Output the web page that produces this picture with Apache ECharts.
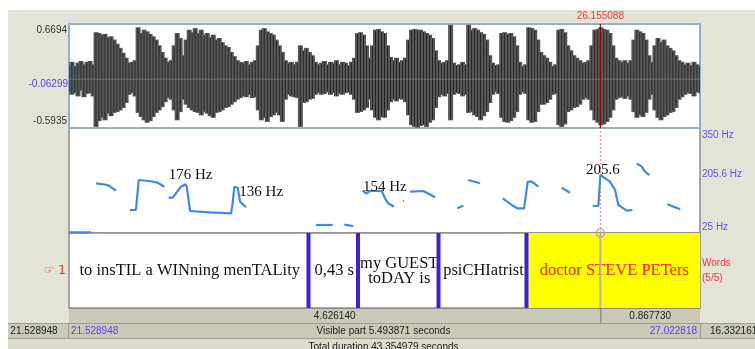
<!DOCTYPE html>
<html><head><meta charset="utf-8">
<script src="https://cdn.jsdelivr.net/npm/echarts@6/dist/echarts.min.js"></script>
<style>html,body{margin:0;padding:0;background:#fff}#c{width:755px;height:349px}</style>
</head><body><div id="c"></div>
<script>
// ---------- data ----------
const T_START = 21.528948, T_END = 27.022818, T_CURSOR = 26.155088;
const VISIBLE_PART = '5.493871', TOTAL_DURATION = '43.354979', RIGHT_REST = '16.332161';
const WAVE_MAX = 0.6694, WAVE_MIN = -0.5935, WAVE_CURSOR_VALUE = -0.06299;
const waveLabels = ['0.6694', '-0.06299', '-0.5935'];
// envelope of the waveform (max / min amplitude per display column)
const waveUpper = [0.17,0.21,0.16,0.20,0.22,0.18,0.21,0.22,0.18,0.57,0.56,0.54,0.55,0.51,0.52,0.48,0.43,0.38,0.32,0.26,
0.20,0.21,0.23,0.63,0.56,0.60,0.58,0.55,0.52,0.48,0.41,0.33,0.26,0.21,0.23,0.41,0.56,0.50,0.29,0.48,
0.60,0.57,0.62,0.56,0.60,0.54,0.56,0.51,0.54,0.48,0.50,0.45,0.41,0.39,0.33,0.28,0.23,0.21,0.20,0.22,
0.18,0.21,0.23,0.41,0.60,0.62,0.58,0.56,0.54,0.48,0.41,0.33,0.23,0.20,0.21,0.18,0.21,0.41,0.35,0.38,
0.33,0.29,0.21,0.18,0.20,0.22,0.18,0.21,0.20,0.23,0.18,0.21,0.20,0.17,0.21,0.26,0.56,0.57,0.54,0.41,
0.26,0.41,0.60,0.61,0.58,0.56,0.41,0.27,0.23,0.26,0.21,0.23,0.26,0.48,0.60,0.61,0.60,0.60,0.58,0.56,
0.54,0.50,0.35,0.23,0.20,0.21,0.23,0.66,0.20,0.17,0.18,0.21,0.18,0.66,0.60,0.62,0.60,0.57,0.55,0.48,
0.29,0.20,0.17,0.18,0.56,0.57,0.55,0.56,0.52,0.41,0.21,0.16,0.18,0.63,0.62,0.60,0.48,0.33,0.29,0.26,
0.21,0.16,0.18,0.60,0.61,0.57,0.41,0.35,0.29,0.26,0.23,0.20,0.21,0.23,0.41,0.60,0.61,0.63,0.61,0.60,
0.56,0.41,0.26,0.23,0.21,0.23,0.20,0.23,0.48,0.60,0.58,0.56,0.48,0.29,0.21,0.41,0.50,0.45,0.48,0.41,
0.38,0.35,0.29,0.23,0.21,0.18,0.20,0.17,0.21,0.18,0.16];
const waveLower = [-0.16,-0.19,-0.17,-0.21,-0.14,-0.22,-0.18,-0.17,-0.21,-0.58,-0.51,-0.47,-0.50,-0.42,-0.45,-0.41,-0.40,-0.38,-0.35,-0.29,
-0.19,-0.17,-0.21,-0.41,-0.46,-0.50,-0.53,-0.51,-0.46,-0.41,-0.38,-0.34,-0.28,-0.23,-0.25,-0.38,-0.50,-0.40,-0.25,-0.31,
-0.35,-0.38,-0.40,-0.41,-0.44,-0.40,-0.42,-0.45,-0.47,-0.41,-0.40,-0.38,-0.35,-0.34,-0.31,-0.28,-0.25,-0.23,-0.21,-0.22,
-0.19,-0.23,-0.22,-0.38,-0.50,-0.47,-0.52,-0.46,-0.44,-0.41,-0.44,-0.52,-0.25,-0.19,-0.21,-0.22,-0.23,-0.58,-0.29,-0.28,
-0.25,-0.24,-0.19,-0.17,-0.19,-0.18,-0.16,-0.19,-0.17,-0.21,-0.18,-0.19,-0.17,-0.16,-0.19,-0.25,-0.41,-0.40,-0.38,-0.35,
-0.25,-0.38,-0.47,-0.50,-0.46,-0.47,-0.38,-0.28,-0.25,-0.27,-0.24,-0.25,-0.28,-0.44,-0.56,-0.58,-0.59,-0.57,-0.56,-0.58,
-0.53,-0.50,-0.35,-0.22,-0.19,-0.21,-0.18,-0.50,-0.19,-0.17,-0.18,-0.21,-0.19,-0.41,-0.40,-0.44,-0.46,-0.50,-0.45,-0.40,
-0.29,-0.19,-0.16,-0.18,-0.47,-0.52,-0.53,-0.51,-0.47,-0.40,-0.19,-0.16,-0.18,-0.50,-0.53,-0.52,-0.40,-0.31,-0.31,-0.29,
-0.25,-0.19,-0.18,-0.56,-0.58,-0.55,-0.40,-0.38,-0.35,-0.34,-0.31,-0.25,-0.23,-0.25,-0.38,-0.50,-0.53,-0.56,-0.55,-0.52,
-0.47,-0.38,-0.25,-0.23,-0.22,-0.24,-0.21,-0.25,-0.40,-0.47,-0.44,-0.46,-0.41,-0.25,-0.19,-0.38,-0.47,-0.50,-0.46,-0.44,
-0.41,-0.40,-0.35,-0.25,-0.22,-0.19,-0.17,-0.18,-0.21,-0.16,-0.17];
const WAVE_DT = (T_END - T_START) / (waveUpper.length - 1); // column period (s)

// pitch contour pieces [time s, Hz]
const pitchSegments = [
  [[21.531,27],[21.720,27]],
  [[21.764,178.8],[21.866,173.6],[21.938,155.9]],
  [[22.060,96.2],[22.112,96.2],[22.136,189.1],[22.228,186.0],[22.301,180.7],[22.359,168.3]],
  [[22.397,134.3],[22.432,134.3],[22.504,168.3],[22.542,175.7],[22.554,168.3],[22.583,93.1],[22.751,89.1],[22.940,86.0],[22.954,116.9],[22.968,168.3],[22.998,165.2],[23.018,121.9],[23.070,104.5]],
  [[23.680,49.8],[23.825,49.8]],
  [[23.926,51],[24.004,46.7]],
  [[24.086,156.5],[24.115,147.3],[24.150,155],[24.252,155],[24.280,132.4],[24.309,116.9],[24.359,106.4]],
  [[24.436,124],[24.444,124]],
  [[24.498,152.8],[24.614,155],[24.716,135.5]],
  [[24.910,101.5],[24.962,109.5]],
  [[25.006,189.1],[25.108,178.8]],
  [[25.305,132.4],[25.384,111.7],[25.432,101.5],[25.491,101.5],[25.523,183.8],[25.558,183.8],[25.615,168.3]],
  [[25.819,165.2],[25.891,149.7]],
  [[26.089,108.6],[26.138,108.6],[26.155,205.6],[26.176,199.3],[26.239,183.8],[26.283,158.1],[26.312,111.7],[26.385,94],[26.434,96.2]],
  [[26.472,240.7],[26.515,230.2],[26.544,214.7],[26.582,204.5]],
  [[26.738,113.8],[26.849,98.4]]
];
const PITCH_MIN = 25, PITCH_MAX = 350;
const pitchTickValues = [350, 205.6, 25];
const pitchTickLabels = ['350 Hz', '205.6 Hz', '25 Hz'];
const pitchAnnotations = [[22.397, 204.5, '176 Hz'], [23.012, 151.9, '136 Hz'], [24.089, 168.3, '154 Hz'], [26.030, 220.9, '205.6']];

// text tier
const intervalBounds = [T_START, 23.614, 24.045, 24.746, 25.512, T_END];
const intervalLabels = ['to insTIL a WINning menTALity', '0,43 s', 'my GUEST\ntoDAY is', 'psiCHIatrist', 'doctor STEVE PETers'];
const SELECTED = 4;
const tierName = 'Words', tierCount = '(5/5)', tierNumber = '\u261E 1';
const cursorPartLabels = ['4.626140', '0.867730'];
const cursorTopLabel = '26.155088';

// ---------- chart ----------
const SANS = '"Liberation Sans", Arial, sans-serif';
const SERIF = '"Liberation Serif", "Times New Roman", serif';
const chart = echarts.init(document.getElementById('c'), null, {renderer: 'canvas'});

const waveData = waveUpper.map((u, i) => [T_START + i * WAVE_DT, u, waveLower[i]]);
const intervalData = intervalLabels.map((l, i) => [intervalBounds[i], intervalBounds[i + 1], i]);
const boundaryData = intervalBounds.slice(1, -1).map(b => [b]);

const timeAxis = (gi) => ({type: 'value', gridIndex: gi, min: T_START, max: T_END, show: false});
const series = [];
series.push({
  type: 'custom', xAxisIndex: 0, yAxisIndex: 0, data: waveData, clip: true, z: 2,
  renderItem(params, api) {
    const t = api.value(0);
    const a = api.coord([t, api.value(1)]);
    const b = api.coord([t, api.value(2)]);
    const w = api.size([WAVE_DT, 0])[0];
    return {type: 'group', children: [
      {type: 'rect', shape: {x: a[0] - w / 2 - 1, y: a[1], width: w + 2, height: b[1] - a[1]}, style: {fill: '#575757'}},
      {type: 'line', shape: {x1: a[0], y1: a[1] + 1, x2: a[0], y2: b[1] - 1}, style: {stroke: '#222222', lineWidth: 1}}
    ]};
  }
});
series.push({type: 'line', xAxisIndex: 0, yAxisIndex: 0, data: [[T_START, 0], [T_END, 0]], symbol: 'none', z: 3,
  lineStyle: {color: '#6d9cb8', width: 1, opacity: 0.6}, silent: true});
series.push({type: 'line', xAxisIndex: 0, yAxisIndex: 0, data: [[T_CURSOR, WAVE_MIN], [T_CURSOR, WAVE_MAX]], symbol: 'none', z: 4,
  lineStyle: {color: '#a00000', width: 1.2}, silent: true});
pitchSegments.forEach(seg => series.push({
  type: 'line', xAxisIndex: 1, yAxisIndex: 1, data: seg, symbol: 'none', z: 3,
  lineStyle: {color: '#3f89e8', width: 2.2}, silent: true
}));
series.push({type: 'line', xAxisIndex: 1, yAxisIndex: 1, data: [[T_CURSOR, PITCH_MIN], [T_CURSOR, PITCH_MAX]], symbol: 'none', z: 2,
  lineStyle: {color: '#ff7a7a', width: 1, type: [2, 2]}, silent: true});
series.push({type: 'custom', xAxisIndex: 1, yAxisIndex: 1, data: pitchAnnotations, z: 5,
  renderItem(params, api) {
    const p = api.coord([api.value(0), api.value(1)]);
    return {type: 'text', x: p[0], y: p[1], style: {text: pitchAnnotations[params.dataIndex][2], font: '15px ' + SERIF, fill: '#111', align: 'left', verticalAlign: 'middle'}};
  }
});
series.push({type: 'custom', xAxisIndex: 2, yAxisIndex: 2, data: intervalData, z: 2,
  renderItem(params, api) {
    const s = api.coord([api.value(0), 1]);
    const e = api.coord([api.value(1), 0]);
    const idx = api.value(2);
    const sel = idx === SELECTED;
    return {type: 'group', children: [
      {type: 'rect', shape: {x: s[0], y: s[1], width: e[0] - s[0], height: e[1] - s[1]}, style: {fill: sel ? '#ffff00' : 'rgba(0,0,0,0)'}},
      {type: 'text', x: (s[0] + e[0]) / 2 + 1, y: (s[1] + e[1]) / 2 + 0.5, style: {text: intervalLabels[idx], font: '16.5px ' + SERIF, lineHeight: 15,
        fill: sel ? '#ff1a00' : '#111', align: 'center', verticalAlign: 'middle'}}
    ]};
  }
});
series.push({type: 'line', xAxisIndex: 2, yAxisIndex: 2, data: [[T_CURSOR, 0], [T_CURSOR, 1]], symbol: 'none', z: 3,
  lineStyle: {color: '#b4b4b4', width: 2}, silent: true});
series.push({type: 'custom', xAxisIndex: 2, yAxisIndex: 2, data: boundaryData, z: 4,
  renderItem(params, api) {
    const a = api.coord([api.value(0), 1]);
    const b = api.coord([api.value(0), 0]);
    return {type: 'line', shape: {x1: a[0], y1: a[1], x2: b[0], y2: b[1]}, style: {stroke: '#3d1fe0', lineWidth: 4}};
  }
});

chart.setOption({
  backgroundColor: '#e4e3d8',
  animation: false,
  grid: [
    {left: 69, top: 24, width: 631, height: 104, show: true, backgroundColor: '#fff', borderColor: '#8fb2c8', borderWidth: 2, z: 1},
    {left: 69, top: 128, width: 631, height: 105, show: true, backgroundColor: '#fff', borderColor: '#8c8c8c', borderWidth: 1.5, z: 0},
    {left: 69, top: 233, width: 631, height: 75, show: true, backgroundColor: '#fff', borderColor: '#8c8c8c', borderWidth: 1.5, z: 0}
  ],
  xAxis: [timeAxis(0), timeAxis(1), timeAxis(2)],
  yAxis: [
    {type: 'value', gridIndex: 0, min: WAVE_MIN, max: WAVE_MAX, show: false},
    {type: 'value', gridIndex: 1, min: PITCH_MIN, max: PITCH_MAX, show: false},
    {type: 'value', gridIndex: 2, min: 0, max: 1, show: false}
  ],
  series
});

// ---------- chrome / labels placed through the axes ----------
const P = (gi, x, y) => chart.convertToPixel({gridIndex: gi}, [x, y]);
const txt = (x, y, text, fill, align, va, font) => ({type: 'text', x, y, silent: true, z: 20,
  style: {text, fill, align, verticalAlign: va, font: font || ('10px ' + SANS)}});
const rect = (x, y, w, h, fill) => ({type: 'rect', shape: {x, y, width: w, height: h}, style: {fill}, silent: true});
const hline = (x1, x2, y, stroke, lw) => ({type: 'line', shape: {x1, y1: y, x2, y2: y}, style: {stroke, lineWidth: lw || 1}, silent: true});
const vline = (x, y1, y2, stroke, lw) => ({type: 'line', shape: {x1: x, y1, x2: x, y2}, style: {stroke, lineWidth: lw || 1}, silent: true});

const wTop = P(0, T_START, WAVE_MAX), wBot = P(0, T_START, WAVE_MIN), wCurV = P(0, T_START, WAVE_CURSOR_VALUE);
const wCurX = P(0, T_CURSOR, 0)[0];
const tierTL = P(2, T_START, 1), tierBR = P(2, T_END, 0), tierCur = P(2, T_CURSOR, 1);
const L = tierTL[0], R = tierBR[0], TB = tierBR[1];
const g = [];
g.push(rect(0, 0, 755, 10, '#ffffff'));
g.push(rect(0, 0, 8, 349, '#ffffff'));
g.push(rect(L, TB, R - L, 15, '#cbcab8'));
g.push(rect(8, TB + 15, 747, 15, '#cbcab8'));
g.push(rect(8, TB + 30, 747, 12, '#dcdbcd'));
g.push(hline(L, R, TB + 0.5, '#8c8c8c'));
g.push(hline(8, 755, TB + 15.5, '#9e9d8c'));
g.push(hline(8, 755, TB + 30.5, '#9e9d8c'));
g.push(vline(L - 0.5, TB + 15, TB + 30, '#9e9d8c'));
g.push(vline(R + 0.5, TB + 15, TB + 30, '#9e9d8c'));
g.push(vline(tierCur[0] + 0.5, TB, TB + 15, '#777'));
// waveform labels
g.push(txt(wTop[0] - 2, wTop[1] + 1, waveLabels[0], '#333', 'right', 'top'));
g.push(txt(wCurV[0] - 1, wCurV[1], waveLabels[1], '#5a3ef2', 'right', 'middle'));
g.push(txt(wBot[0] - 2, wBot[1] - 2, waveLabels[2], '#333', 'right', 'bottom'));
// cursor label
g.push(txt(wCurX, 16, cursorTopLabel, '#f03838', 'center', 'middle'));
// pitch axis labels
pitchTickValues.forEach((v, i) => {
  const p = P(1, T_END, v);
  const va = i === 0 ? 'top' : (i === pitchTickValues.length - 1 ? 'bottom' : 'middle');
  const dy = i === 0 ? 2 : (i === pitchTickValues.length - 1 ? -1 : 0);
  g.push(txt(p[0] + 2, p[1] + dy, pitchTickLabels[i], '#6a4fe6', 'left', va));
});
// cursor circle on tier
g.push({type: 'circle', shape: {cx: tierCur[0], cy: tierCur[1], r: 4}, style: {fill: 'none', stroke: '#a0a0a0', lineWidth: 1.2}, silent: true, z: 10});
// tier side labels
const midTier = (tierTL[1] + TB) / 2;
g.push(txt(L - 3, midTier, tierNumber, '#e8302c', 'right', 'middle', '12px "DejaVu Sans", sans-serif'));
g.push(txt(R + 2, midTier - 7, tierName, '#f03838', 'left', 'middle'));
g.push(txt(R + 2, midTier + 8, tierCount, '#f03838', 'left', 'middle'));
// bottom rows
g.push(txt((L + tierCur[0]) / 2, TB + 8, cursorPartLabels[0], '#222', 'center', 'middle'));
g.push(txt((tierCur[0] + R) / 2, TB + 8, cursorPartLabels[1], '#222', 'center', 'middle'));
g.push(txt(34, TB + 23.5, T_START.toFixed(6), '#222', 'center', 'middle'));
g.push(txt(L + 2, TB + 23.5, T_START.toFixed(6), '#5a3ef2', 'left', 'middle'));
g.push(txt((L + R) / 2 - 1, TB + 23.5, 'Visible part ' + VISIBLE_PART + ' seconds', '#222', 'center', 'middle'));
g.push(txt(R - 3, TB + 23.5, T_END.toFixed(6), '#5a3ef2', 'right', 'middle'));
g.push(txt(R + 10, TB + 23.5, RIGHT_REST, '#222', 'left', 'middle'));
g.push(txt((L + R) / 2 - 1, TB + 39, 'Total duration ' + TOTAL_DURATION + ' seconds', '#222', 'center', 'middle'));

chart.setOption({graphic: {elements: g}});
</script></body></html>
